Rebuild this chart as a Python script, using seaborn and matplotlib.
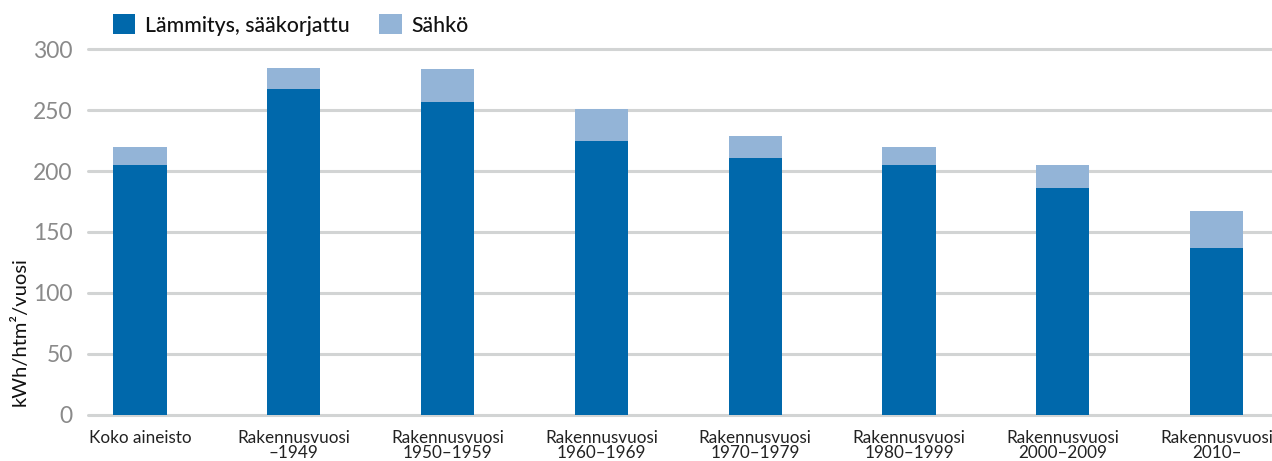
import matplotlib
matplotlib.use("Agg")
import matplotlib.pyplot as plt
import seaborn as sns
import pandas as pd
from matplotlib.patches import Patch

categories = ["Koko aineisto", "Rakennusvuosi\n\u20131949", "Rakennusvuosi\n1950\u20131959",
              "Rakennusvuosi\n1960\u20131969", "Rakennusvuosi\n1970\u20131979",
              "Rakennusvuosi\n1980\u20131999", "Rakennusvuosi\n2000\u20132009",
              "Rakennusvuosi\n2010\u2013"]
heating = [205, 267, 257, 225, 211, 205, 186, 137]
electricity = [15, 18, 27, 26, 18, 15, 19, 30]
yticks = [0, 50, 100, 150, 200, 250, 300]

dark = "#0068ab"
light = "#93b4d7"

sns.set_theme(style="white")
plt.rcParams['font.family'] = ['Lato', 'DejaVu Sans']

df = pd.DataFrame({"cat": categories, "heat": heating,
                   "total": [h + e for h, e in zip(heating, electricity)]})

fig = plt.figure(figsize=(12.72, 4.61), dpi=100)
ax = fig.add_axes([88/1272, 1 - 414.5/461, 1 - 88/1272, (414.5 - 49.3)/461])

sns.barplot(data=df, x="cat", y="total", order=categories, color=light,
            width=0.345, saturation=1, ax=ax, zorder=3, linewidth=0, edgecolor="none")
sns.barplot(data=df, x="cat", y="heat", order=categories, color=dark,
            width=0.345, saturation=1, ax=ax, zorder=4, linewidth=0, edgecolor="none")

ax.set_ylim(0, 300)
ax.set_xlim(-0.338, 7.36)
ax.set_yticks(yticks)
ax.yaxis.grid(True, color="#d2d4d4", linewidth=2.2, zorder=0)
for ln in ax.get_ygridlines():
    ln.set_clip_on(False)
ax.set_axisbelow(True)
for s in ax.spines.values():
    s.set_visible(False)
ax.tick_params(axis="y", length=0, pad=11, labelsize=16.5, labelcolor="#8a8a8a")
ax.tick_params(axis="x", length=0, pad=11, labelsize=12.3, labelcolor="#222222")
for lab in ax.get_xticklabels():
    lab.set_linespacing(0.92)
ax.set_xlabel("")
ax.set_ylabel("")

fig.text(20/1272, 1 - 332/461, "kWh/htm\u00b2/vuosi", rotation=90, ha="center",
         va="center", fontsize=14.5, color="#111111")

handles = [Patch(facecolor=dark, edgecolor="none"), Patch(facecolor=light, edgecolor="none")]
fig.legend(handles, ["L\u00e4mmitys, s\u00e4\u00e4korjattu", "S\u00e4hk\u00f6"],
           loc="center left", bbox_to_anchor=(113/1272, 1 - 25/461), ncol=2, frameon=False,
           prop={"size": 15.3, "weight": "medium"}, labelcolor="#111111",
           handlelength=1.05, handleheight=1.05, handletextpad=0.45,
           columnspacing=1.4, borderaxespad=0, borderpad=0)

fig.savefig("out.png", dpi=100)
